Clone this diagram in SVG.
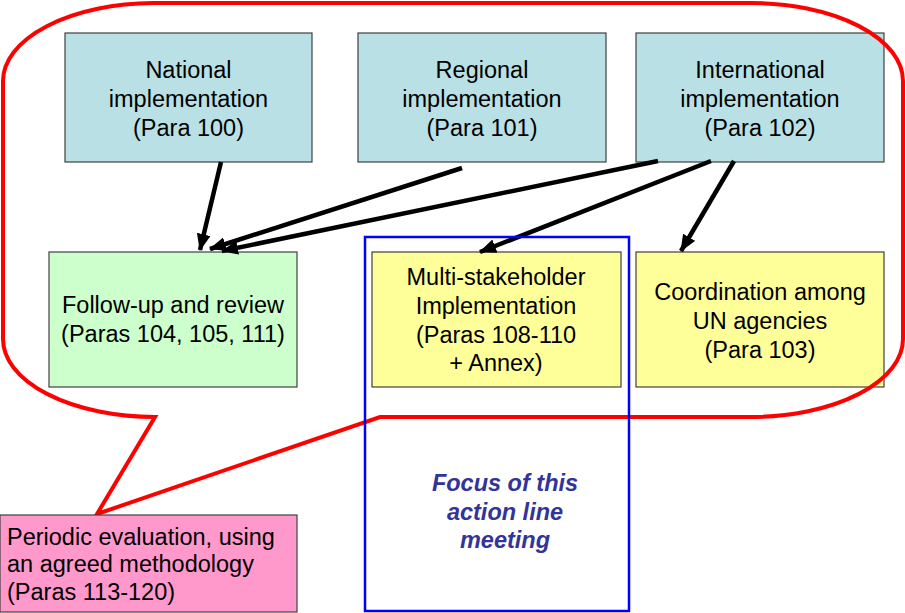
<svg xmlns="http://www.w3.org/2000/svg" width="905" height="613" viewBox="0 0 905 613">
<style>
text{font-family:"Liberation Sans",Arial,sans-serif;font-size:23.5px;fill:#000}
.c{text-anchor:middle}
.box{stroke:#404040;stroke-width:1.2}
.top{fill:#B9E0E4}
.green{fill:#CCFFCC}
.yellow{fill:#FFFF99}
.pink{fill:#FF99CC}
.arrow{stroke:#000;stroke-width:4.5;fill:none;marker-end:url(#ah)}
.focus{font-weight:bold;font-style:italic;fill:#333399}
</style>
<defs>
<marker id="ah" markerUnits="userSpaceOnUse" markerWidth="18" markerHeight="16" refX="16" refY="7" orient="auto">
<path d="M0,0 L17,7 L0,14 Z" fill="#000"/>
</marker>
<path id="bubble" d="M153,3 H751 A152,78 0 0 1 903,81 V339 A152,78 0 0 1 751,417 H380 L97,514 L155,417 A152,78 0 0 1 3,339 V81 A152,78 0 0 1 153,3 Z"/>
</defs>
<rect width="905" height="613" fill="#fff"/>
<g id="callout-fill">
<use href="#bubble" fill="#fff" stroke="none"/>
</g>
<g id="national">
<rect class="box top" x="65" y="33" width="247" height="129"/>
<text class="c" x="188.5" y="78">National</text>
<text class="c" x="188.5" y="107">implementation</text>
<text class="c" x="188.5" y="136">(Para 100)</text>
</g>
<g id="regional">
<rect class="box top" x="358" y="33" width="248" height="129"/>
<text class="c" x="482" y="78">Regional</text>
<text class="c" x="482" y="107">implementation</text>
<text class="c" x="482" y="136">(Para 101)</text>
</g>
<g id="international">
<rect class="box top" x="636" y="33" width="248" height="129"/>
<text class="c" x="760" y="78">International</text>
<text class="c" x="760" y="107">implementation</text>
<text class="c" x="760" y="136">(Para 102)</text>
</g>
<g id="followup">
<rect class="box green" x="49" y="252" width="248" height="135"/>
<text class="c" x="173" y="313">Follow-up and review</text>
<text class="c" x="173" y="342">(Paras 104, 105, 111)</text>
</g>
<g id="multistakeholder">
<rect class="box yellow" x="372" y="252" width="249" height="135"/>
<text class="c" x="496" y="285">Multi-stakeholder</text>
<text class="c" x="496" y="314">Implementation</text>
<text class="c" x="496" y="343">(Paras 108-110</text>
<text class="c" x="496" y="371">+ Annex)</text>
</g>
<g id="coordination">
<rect class="box yellow" x="636" y="252" width="248" height="135"/>
<text class="c" x="760" y="300">Coordination among</text>
<text class="c" x="760" y="329">UN agencies</text>
<text class="c" x="760" y="358">(Para 103)</text>
</g>
<g id="callout">
<use href="#bubble" fill="none" stroke="#FF0000" stroke-width="4"/>
</g>
<g id="connectors">
<line class="arrow" x1="221" y1="162" x2="200" y2="250"/>
<line class="arrow" x1="462" y1="168" x2="210" y2="249"/>
<line class="arrow" x1="658" y1="161" x2="222" y2="251"/>
<line class="arrow" x1="711" y1="161" x2="480" y2="252"/>
<line class="arrow" x1="734" y1="161" x2="681" y2="251"/>
</g>
<g id="focus">
<rect x="365" y="237" width="264" height="374" fill="none" stroke="#0000FF" stroke-width="2.5"/>
<text class="c focus" x="505" y="491">Focus of this</text>
<text class="c focus" x="505" y="520">action line</text>
<text class="c focus" x="505" y="548">meeting</text>
</g>
<g id="evaluation">
<rect class="box pink" x="0" y="515" width="297" height="97"/>
<text x="7" y="545">Periodic evaluation, using</text>
<text x="7" y="572">an agreed methodology</text>
<text x="7" y="600">(Paras 113-120)</text>
</g>
</svg>
